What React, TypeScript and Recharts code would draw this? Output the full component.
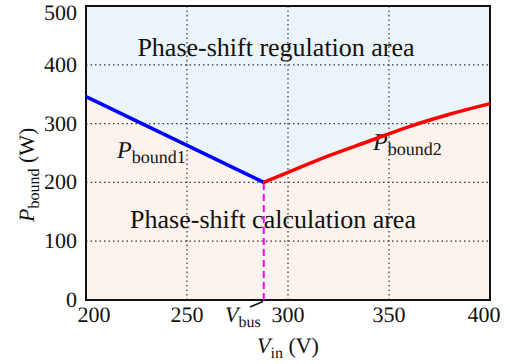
import React from 'react';
import {
  ComposedChart, Area, Line, XAxis, YAxis, CartesianGrid, ReferenceLine, ReferenceArea,
} from 'recharts';

const vinTicks = [200, 250, 300, 350, 400];
const pTicks = [0, 100, 200, 300, 400, 500];
const vBus = 288;
const vin1 = [200, 288];
const pBound1 = [346, 200];
const vin2 = [288, 300, 320, 340, 360, 380, 400];
const pBound2 = [200, 217, 245, 270, 295, 316, 334];

const allVin = Array.from(new Set([...vin1, ...vin2])).sort((a, b) => a - b);
const data = allVin.map((v) => {
  const i1 = vin1.indexOf(v);
  const i2 = vin2.indexOf(v);
  const p1 = i1 >= 0 ? pBound1[i1] : null;
  const p2 = i2 >= 0 ? pBound2[i2] : null;
  return { vin: v, p1, p2, bound: p1 !== null ? p1 : p2 };
});

const FONT = "'Liberation Serif', 'Times New Roman', Times, serif";
const fs = (size: number) => ({ fontFamily: FONT, fontSize: size, textRendering: 'geometricPrecision' as const });

const XTick = (props: any) => {
  const { x, payload } = props;
  const v = payload.value;
  const shift = v === 200 ? 8 : v === 400 ? -6 : 0;
  return (
    <text x={x + shift} y={322} textAnchor="middle" style={fs(22)} fill="#111">
      {v}
    </text>
  );
};

const YTick = (props: any) => {
  const { y, payload } = props;
  return (
    <text x={77} y={Math.max(y + 7, 20)} textAnchor="end" style={fs(22)} fill="#111">
      {payload.value}
    </text>
  );
};

const Annotations = () => (
  <g fill="#111">
    <text x={276} y={56} textAnchor="middle" style={fs(26)}>Phase-shift regulation area</text>
    <text x={273} y={228} textAnchor="middle" style={fs(26)}>Phase-shift calculation area</text>
    <text x={117} y={158} style={fs(24)}>
      <tspan fontStyle="italic">P</tspan>
      <tspan style={fs(18)} dy={5}>bound1</tspan>
    </text>
    <text x={373} y={150} style={fs(24)}>
      <tspan fontStyle="italic">P</tspan>
      <tspan style={fs(18)} dy={5}>bound2</tspan>
    </text>
    <text x={225} y={322} style={fs(22)}>
      <tspan fontStyle="italic">V</tspan>
      <tspan style={fs(16)} dy={5}>bus</tspan>
    </text>
    <line x1={250} y1={307} x2={263} y2={301.5} stroke="#111" strokeWidth={1.5} />
    <text x={257} y={353} style={fs(22)}>
      <tspan fontStyle="italic">V</tspan>
      <tspan style={fs(16)} dy={5}>in</tspan>
      <tspan dy={-5}> (V)</tspan>
    </text>
    <text x={0} y={0} style={fs(22)} transform="translate(34 222) rotate(-90)">
      <tspan fontStyle="italic">P</tspan>
      <tspan style={fs(16)} dy={5}>bound</tspan>
      <tspan dy={-5}> (W)</tspan>
    </text>
  </g>
);

export default function App() {
  return (
    <div style={{ position: 'absolute', left: 0, top: 0, background: '#fff', fontFamily: FONT, textRendering: 'geometricPrecision' }}>
      <ComposedChart
        width={510}
        height={364}
        data={data}
        margin={{ top: 6, right: 20, bottom: 0, left: 0 }}
      >
        <CartesianGrid fill="#EBF5F9" horizontal={false} vertical={false} stroke="none" />
        <XAxis
          dataKey="vin"
          type="number"
          domain={[200, 400]}
          ticks={vinTicks}
          axisLine={false}
          tickLine={false}
          height={64}
          tick={<XTick />}
          interval={0}
        />
        <YAxis
          type="number"
          domain={[0, 500]}
          ticks={pTicks}
          axisLine={false}
          tickLine={false}
          width={86}
          tick={<YTick />}
          interval={0}
        />
        <Area
          dataKey="bound"
          type="linear"
          fill="#FDF3EE"
          fillOpacity={1}
          stroke="none"
          isAnimationActive={false}
          baseValue={0}
        />
        {[250, 300, 350].map((v) => (
          <ReferenceLine key={'x' + v} x={v} stroke="#333" strokeWidth={1.2} strokeDasharray="1.5 3" />
        ))}
        {[100, 200, 300, 400].map((v) => (
          <ReferenceLine key={'y' + v} y={v} stroke="#333" strokeWidth={1.2} strokeDasharray="1.5 3" />
        ))}
        <ReferenceLine
          segment={[{ x: vBus, y: 0 }, { x: vBus, y: 200 }]}
          stroke="#FF00FF"
          strokeWidth={2}
          strokeDasharray="7 4"
        />
        <Line dataKey="p1" type="linear" stroke="#0000FF" strokeWidth={3.5} dot={false} isAnimationActive={false} connectNulls={false} />
        <Line dataKey="p2" type="monotone" stroke="#FF0000" strokeWidth={3.5} dot={false} isAnimationActive={false} connectNulls={false} />
        <ReferenceArea
          x1={200}
          x2={400}
          y1={0}
          y2={500}
          fill="none"
          stroke="#111"
          strokeWidth={2}
          label={() => <Annotations />}
        />
      </ComposedChart>
    </div>
  );
}
